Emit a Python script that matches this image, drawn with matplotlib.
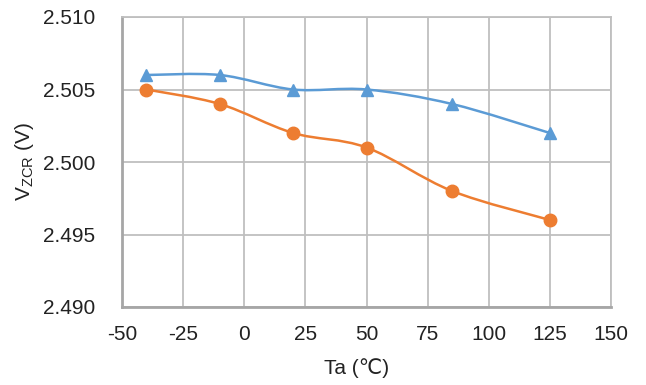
import numpy as np
import matplotlib
matplotlib.use("Agg")
import matplotlib.pyplot as plt
from matplotlib.path import Path
from matplotlib.patches import PathPatch

plt.rcParams['font.family'] = ['Liberation Sans', 'DejaVu Sans']
plt.rcParams['mathtext.fontset'] = 'custom'
plt.rcParams['mathtext.rm'] = 'Liberation Sans'
plt.rcParams['mathtext.it'] = 'Liberation Sans'

temps = [-40, -10, 20, 50, 85, 125]
series_blue = [2.506, 2.506, 2.505, 2.505, 2.504, 2.502]
series_orange = [2.505, 2.504, 2.502, 2.501, 2.498, 2.496]
xticks = [-50, -25, 0, 25, 50, 75, 100, 125, 150]
yticks = [2.490, 2.495, 2.500, 2.505, 2.510]

BLUE = '#5B9BD5'
ORANGE = '#ED7D31'


def smooth_path(x, y):
    x = np.asarray(x, float)
    y = np.asarray(y, float)
    n = len(x)
    verts = [(x[0], y[0])]
    codes = [Path.MOVETO]
    for i in range(n - 1):
        p0 = np.array([x[max(i - 1, 0)], y[max(i - 1, 0)]])
        p1 = np.array([x[i], y[i]])
        p2 = np.array([x[i + 1], y[i + 1]])
        p3 = np.array([x[min(i + 2, n - 1)], y[min(i + 2, n - 1)]])
        c1 = p1 + (p2 - p0) / 6.0
        c2 = p2 - (p3 - p1) / 6.0
        verts += [tuple(c1), tuple(c2), tuple(p2)]
        codes += [Path.CURVE4] * 3
    return Path(verts, codes)


fig = plt.figure(figsize=(6.46, 3.85), dpi=100)
ax = fig.add_axes([122 / 646, 1 - 307 / 385, (611 - 122) / 646, (307 - 17) / 385])

for ys, col, mk in [(series_blue, BLUE, '^'), (series_orange, ORANGE, 'o')]:
    ax.add_patch(PathPatch(smooth_path(temps, ys), facecolor='none',
                           edgecolor=col, lw=1.8, zorder=3))
    ax.plot(temps, ys, linestyle='none', marker=mk, color=col,
            markersize=9, zorder=4)

ax.set_xlim(-50, 150)
ax.set_ylim(2.490, 2.510)
ax.set_xticks(xticks)
ax.set_yticks(yticks)
ax.set_xticklabels([str(v) for v in xticks])
ax.set_yticklabels([f"{v:.3f}" for v in yticks])
ax.tick_params(axis='both', length=0, labelsize=15, colors='#222222')
ax.tick_params(axis='y', pad=19)
ax.tick_params(axis='x', pad=13)
ax.grid(True, color='#BFBFBF', lw=1.3)
ax.set_axisbelow(True)
for s in ['top', 'right']:
    ax.spines[s].set_color('#BFBFBF')
    ax.spines[s].set_linewidth(1.3)
for s in ['left', 'bottom']:
    ax.spines[s].set_color('#A6A6A6')
    ax.spines[s].set_linewidth(2)

fig.text(357 / 646, 1 - 368 / 385, 'Ta (\u2103)', ha='center', va='center',
         fontsize=15, color='#222222')
fig.text(25 / 646, 1 - 162 / 385, r'$\mathrm{V_{ZCR}}$ (V)', ha='center',
         va='center', rotation=90, fontsize=15, color='#222222')

fig.savefig('out.png', dpi=100)
